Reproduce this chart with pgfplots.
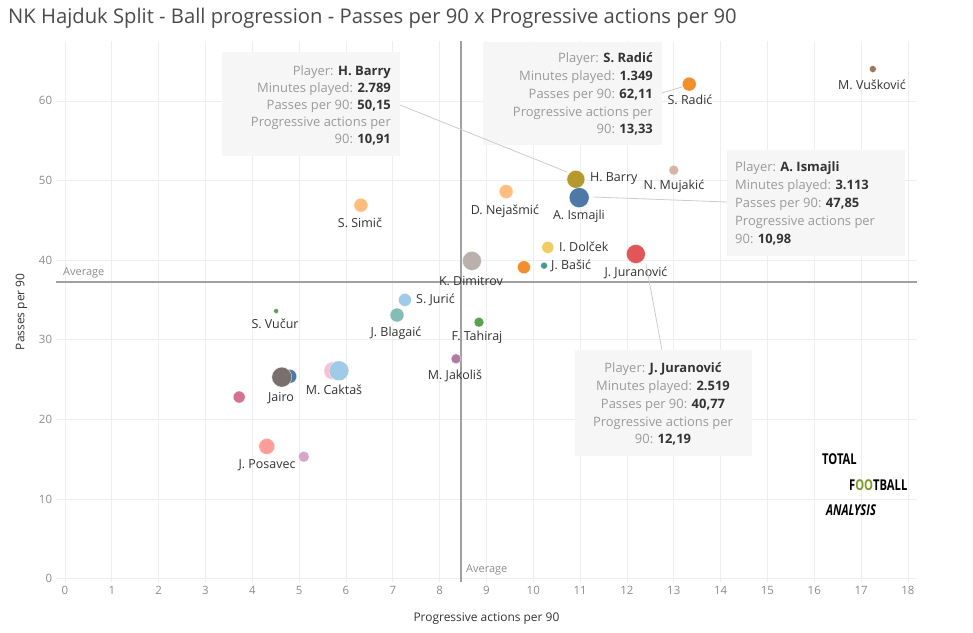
\documentclass[border=0pt]{standalone}
\usepackage{fontspec}
\setmainfont{Open Sans}
\usepackage{pgfplots}
\pgfplotsset{compat=1.18}
\definecolor{cblue}{HTML}{4E79A7}
\definecolor{clblue}{HTML}{A0CBE8}
\definecolor{corange}{HTML}{F28E2B}
\definecolor{clorange}{HTML}{FFBE7D}
\definecolor{cgreen}{HTML}{59A14F}
\definecolor{colive}{HTML}{B6992D}
\definecolor{cyellow}{HTML}{F1CE63}
\definecolor{cteal}{HTML}{499894}
\definecolor{clteal}{HTML}{86BCB6}
\definecolor{cred}{HTML}{E15759}
\definecolor{csalmon}{HTML}{FF9D9A}
\definecolor{cgrey}{HTML}{79706E}
\definecolor{clgrey}{HTML}{BAB0AC}
\definecolor{cpink}{HTML}{D37295}
\definecolor{clpink}{HTML}{FABFD2}
\definecolor{cpurple}{HTML}{B07AA1}
\definecolor{clpurple}{HTML}{D4A6C8}
\definecolor{cbrown}{HTML}{9D7660}
\definecolor{clbrown}{HTML}{D7B5A6}
\definecolor{gridc}{HTML}{EEEEEE}
\definecolor{avgc}{HTML}{A0A0A0}
\definecolor{tickc}{HTML}{8C8C8C}
\definecolor{labc}{HTML}{333333}
\definecolor{titlec}{HTML}{4A4A4A}
\definecolor{tipbg}{HTML}{F6F6F6}
\definecolor{tipg}{HTML}{9A9A9A}
\definecolor{tipd}{HTML}{333333}
\definecolor{connc}{HTML}{CCCCCC}
\definecolor{logog}{HTML}{7A9A2A}
\newcommand{\pt}[4]{\addplot[only marks, mark=*, mark size=#3bp, color=#4, mark options={draw=white, line width=0.3bp}] coordinates {(#1,#2)};}
\newcommand{\tip}[5]{\node[anchor=base #1, inner sep=0pt, font=\fontsize{13}{15}\selectfont] at (#2,#3) {\textcolor{tipg}{#4}\textcolor{tipd}{\textbf{#5}}};}
\begin{document}
\begin{tikzpicture}
\path[use as bounding box] (0,0) rectangle (973bp,633bp);
\begin{axis}[
  at={(55.6bp,50.5bp)}, anchor=south west,
  scale only axis, width=861.7bp, height=541.3bp,
  xmin=-0.2, xmax=18.2, ymin=-0.5, ymax=67.5,
  xtick={0,1,...,18}, ytick={0,10,...,60},
  grid=major, major grid style={color=gridc, line width=0.6bp},
  axis line style={draw=none},
  tick style={draw=none},
  ticklabel style={font=\fontsize{11.5}{13}\selectfont, text=tickc},
  /pgf/number format/assume math mode=true,
  xlabel={Progressive actions per 90},
  ylabel={Passes per 90},
  every axis x label/.style={at={(axis description cs:0.5,0)}, anchor=center, yshift=-36bp, font=\fontsize{12}{13}\selectfont, text=labc},
  every axis y label/.style={at={(axis description cs:0,0.5)}, xshift=-34bp, rotate=90, anchor=center, font=\fontsize{12}{13}\selectfont, text=labc},
  clip=false,
]
\addplot[avgc, line width=1.8bp] coordinates {(-0.2,37.25) (18.2,37.25)};
\addplot[avgc, line width=1.8bp] coordinates {(8.46,-0.5) (8.46,67.5)};
\pt{17.25}{64.0}{3.5}{cbrown}
\pt{13.33}{62.11}{7}{corange}
\pt{13.0}{51.3}{5}{clbrown}
\pt{9.42}{48.6}{7}{clorange}
\pt{6.32}{46.9}{7}{clorange}
\pt{10.91}{50.15}{9}{colive}
\pt{10.98}{47.85}{10}{cblue}
\pt{10.31}{41.6}{6}{cyellow}
\pt{10.23}{39.3}{3.5}{cteal}
\pt{9.80}{39.1}{6.5}{corange}
\pt{12.19}{40.77}{9.5}{cred}
\pt{8.69}{39.9}{9.5}{clgrey}
\pt{7.26}{35.0}{6.5}{clblue}
\pt{7.09}{33.1}{7}{clteal}
\pt{8.84}{32.2}{5}{cgreen}
\pt{4.51}{33.6}{2.5}{cgreen}
\pt{8.35}{27.6}{5}{cpurple}
\pt{5.72}{26.1}{9}{clpink}
\pt{5.85}{26.1}{10}{clblue}
\pt{4.80}{25.4}{7}{cblue}
\pt{4.63}{25.3}{10}{cgrey}
\pt{3.72}{22.8}{6}{cpink}
\pt{4.31}{16.6}{8}{csalmon}
\pt{5.10}{15.3}{5.5}{clpurple}
\end{axis}
\begin{scope}[x=1bp, y=-1bp, yshift=633bp]
% title
\node[anchor=west, inner sep=0pt, font=\fontsize{20.3}{23}\selectfont, text=titlec] at (8,18) {NK Hajduk Split - Ball progression - Passes per 90 x Progressive actions per 90};
% average labels
\node[anchor=west, inner sep=0pt, font=\fontsize{11}{12}\selectfont, text=tickc] at (63,273) {Average};
\node[anchor=west, inner sep=0pt, font=\fontsize{11}{12}\selectfont, text=tickc] at (466,570) {Average};
% point labels
\tikzset{lab/.style={font=\fontsize{12.5}{14}\selectfont, text=labc, inner sep=0pt}}
\node[lab] at (872,85) {M. Vušković};
\node[lab] at (690,100) {S. Radić};
\node[lab] at (674,186) {N. Mujakić};
\node[lab, anchor=west] at (590,179) {H. Barry};
\node[lab] at (579,216) {A. Ismajli};
\node[lab] at (505,211) {D. Nejašmić};
\node[lab] at (360,223) {S. Simič};
\node[lab, anchor=west] at (559,247) {I. Dolček};
\node[lab, anchor=west] at (551,266) {J. Bašić};
\node[lab] at (636,273) {J. Juranović};
\node[lab] at (471,281) {K. Dimitrov};
\node[lab, anchor=west] at (416,300) {S. Jurić};
\node[lab] at (396,333) {J. Blagaić};
\node[lab] at (477,337) {F. Tahiraj};
\node[lab] at (275,324) {S. Vučur};
\node[lab] at (455,376) {M. Jakoliš};
\node[lab] at (334,390) {M. Caktaš};
\node[lab] at (281,398) {Jairo};
\node[lab] at (267,465) {J. Posavec};
% tooltip boxes
\fill[tipbg] (222,52) rectangle (400,156);
\fill[tipbg] (483,42) rectangle (662,145);
\fill[tipbg] (727,150) rectangle (905,256);
\fill[tipbg] (575,350) rectangle (752,456);
\draw[connc, line width=0.8bp] (400,105) -- (567,172);
\draw[connc, line width=0.8bp] (662,93) -- (682,87);
\draw[connc, line width=0.8bp] (593,197) -- (727,202);
\draw[connc, line width=0.8bp] (646,264) -- (662,350);
\tip{east}{391}{76}{Player: }{H. Barry}
\tip{east}{391}{92.5}{Minutes played: }{2.789}
\tip{east}{391}{110}{Passes per 90: }{50,15}
\tip{east}{391}{127}{Progressive actions per}{}
\tip{east}{391}{144}{90: }{10,91}
\tip{east}{653}{62.5}{Player: }{S. Radić}
\tip{east}{653}{80.5}{Minutes played: }{1.349}
\tip{east}{653}{98.5}{Passes per 90: }{62,11}
\tip{east}{653}{116.5}{Progressive actions per}{}
\tip{east}{653}{133.5}{90: }{13,33}
\tip{west}{735}{171.5}{Player: }{A. Ismajli}
\tip{west}{735}{189.5}{Minutes played: }{3.113}
\tip{west}{735}{207.5}{Passes per 90: }{47,85}
\tip{west}{735}{225.5}{Progressive actions per}{}
\tip{west}{735}{243.5}{90: }{10,98}
\tip{}{663}{372.5}{Player: }{J. Juranović}
\tip{}{663}{390.5}{Minutes played: }{2.519}
\tip{}{663}{408.5}{Passes per 90: }{40,77}
\tip{}{663}{426.5}{Progressive actions per}{}
\tip{}{663}{443.5}{90: }{12,19}
% logo
\node[anchor=west, inner sep=0pt, xscale=0.75, font=\fontsize{15}{16}\selectfont\bfseries] at (822,459) {TOTAL};
\node[anchor=west, inner sep=0pt, xscale=0.75, font=\fontsize{15}{16}\selectfont\bfseries] at (849,485) {F\textcolor{logog}{OO}TBALL};
\node[anchor=west, inner sep=0pt, xscale=0.75, font=\fontsize{15}{16}\selectfont\bfseries\itshape] at (826,510) {ANALYSIS};
\end{scope}
\end{tikzpicture}
\end{document}
